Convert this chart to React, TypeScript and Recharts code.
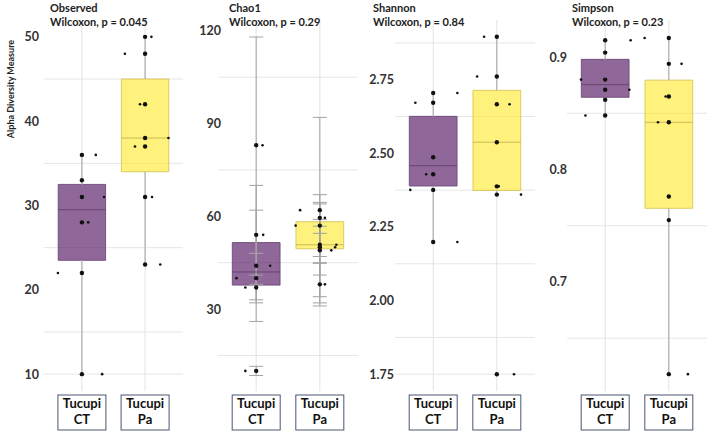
import React from 'react';
import {
  ComposedChart,
  Scatter,
  XAxis,
  YAxis,
  CartesianGrid,
  ReferenceArea,
  ReferenceLine,
  ErrorBar,
} from 'recharts';

const groups = ['Tucupi CT', 'Tucupi Pa'];

// Observed richness per sample
const observedCT = [36, 33, 31, 28, 22, 10];
const observedPa = [50, 48, 42, 38, 37, 31, 23];
const observedCTJitter = [0.22, 0, 0.35, 0.1, -0.38, 0.32];
const observedPaJitter = [0.1, -0.32, -0.08, 0.37, -0.16, 0.11, 0.24];

// Chao1 estimate and its standard error
const chao1CT = [83, 54, 44, 40, 37, 10];
const chao1CTse = [35, 16, 18, 8, 4, 1.5];
const chao1Pa = [62, 59.5, 57, 50.8, 50, 49, 38];
const chao1PaSe = [30, 5, 10, 6, 9, 15, 7];
const chao1CTJitter = [0.1, 0.11, 0.22, -0.31, -0.17, -0.17];
const chao1PaJitter = [-0.31, 0.08, -0.38, 0.26, 0.24, 0.18, 0.08];

// Shannon index
const shannonCT = [2.705, 2.672, 2.487, 2.429, 2.376, 2.199];
const shannonPa = [2.896, 2.761, 2.667, 2.538, 2.388, 2.36, 1.75];
const shannonCTJitter = [0.38, -0.28, 0, -0.11, -0.36, 0.38];
const shannonPaJitter = [-0.2, -0.31, 0.2, 0, 0.03, 0.38, 0.27];

// Simpson index
const simpsonCT = [0.915, 0.904, 0.88, 0.871, 0.862, 0.848];
const simpsonPa = [0.917, 0.894, 0.865, 0.842, 0.776, 0.755, 0.618];
const simpsonCTJitter = [0.4, 0, -0.38, 0.38, 0, -0.31];
const simpsonPaJitter = [-0.38, 0.2, -0.05, -0.17, 0, 0, 0.3];

const FONT = 'Lato, "Open Sans", sans-serif';
const FILLS = ['#440154', '#FDE725'];
const MEDIANS = ['#5a3566', '#b3a24a'];
const BORDERS = ['#6d4a7a', '#d9c55a'];
const HALF_BOX = 0.375;

// type 7 quantile, same as R's default
function quantile(values: number[], p: number) {
  const s = [...values].sort((a, b) => a - b);
  const pos = (s.length - 1) * p;
  const lo = Math.floor(pos);
  const hi = Math.ceil(pos);
  return s[lo] + (s[hi] - s[lo]) * (pos - lo);
}

function boxStats(values: number[]) {
  const q1 = quantile(values, 0.25);
  const med = quantile(values, 0.5);
  const q3 = quantile(values, 0.75);
  const iqr = q3 - q1;
  const inside = values.filter((v) => v >= q1 - 1.5 * iqr && v <= q3 + 1.5 * iqr);
  return { q1, med, q3, lo: Math.min(...inside), hi: Math.max(...inside) };
}

interface PanelProps {
  left: number;
  width: number;
  yWidth: number;
  labelRight: number;
  domain: [number, number];
  ticks: number[];
  minor: number[];
  digits: number;
  series: number[][];
  jitter: number[][];
  se?: number[][];
}

const bigDot = (p: any) => <circle cx={p.cx} cy={p.cy} r={2.2} fill="#111" />;
const smallDot = (p: any) => <circle cx={p.cx} cy={p.cy} r={1.3} fill="#111" />;

function GroupTick(props: any) {
  const { x, payload } = props;
  const [top, bottom] = groups[payload.value - 1].split(' ');
  return (
    <g>
      <rect x={x - 24} y={395} width={48} height={35} fill="#fff" stroke="#4a5670" strokeWidth={1} />
      <text x={x} y={408} textAnchor="middle" fontFamily={FONT} fontWeight={700} fontSize={13} fill="#111">
        {top}
      </text>
      <text x={x} y={424} textAnchor="middle" fontFamily={FONT} fontWeight={700} fontSize={13} fill="#111">
        {bottom}
      </text>
    </g>
  );
}

function Panel({ left, width, yWidth, labelRight, domain, ticks, minor, digits, series, jitter, se }: PanelProps) {
  const stats = series.map(boxStats);
  const YTick = (props: any) => (
    <text
      x={labelRight}
      y={props.y}
      dy={4.5}
      textAnchor="end"
      fontFamily={FONT}
      fontWeight={700}
      fontSize={12.5}
      fill="#333"
    >
      {Number(props.payload.value).toFixed(digits)}
    </text>
  );

  return (
    <div style={{ position: 'absolute', left, top: 0 }}>
      <ComposedChart width={width} height={433} margin={{ top: 20, right: 0, bottom: 0, left: 0 }}>
        <CartesianGrid horizontalValues={[...ticks, ...minor]} vertical={false} stroke="#e6e6e6" />
        <XAxis
          type="number"
          dataKey="x"
          domain={[0.4, 2.6]}
          ticks={[1, 2]}
          allowDataOverflow
          axisLine={false}
          tickLine={false}
          height={42}
          tick={<GroupTick />}
        />
        <YAxis
          type="number"
          dataKey="y"
          domain={domain}
          ticks={ticks}
          allowDataOverflow
          width={yWidth}
          axisLine={false}
          tickLine={false}
          tick={<YTick />}
        />
        {/* vertical grid at each group, left open where the box sits */}
        {stats.map((s, i) => (
          <ReferenceLine
            key={`vgl${i}`}
            segment={[
              { x: i + 1, y: domain[0] },
              { x: i + 1, y: s.q1 },
            ]}
            stroke="#e3e3e3"
          />
        ))}
        {stats.map((s, i) => (
          <ReferenceLine
            key={`vgh${i}`}
            segment={[
              { x: i + 1, y: s.q3 },
              { x: i + 1, y: domain[1] },
            ]}
            stroke="#e3e3e3"
          />
        ))}
        {stats.map((s, i) => (
          <ReferenceLine
            key={`wl${i}`}
            segment={[
              { x: i + 1, y: s.lo },
              { x: i + 1, y: s.q1 },
            ]}
            stroke="#a3a3a3"
          />
        ))}
        {stats.map((s, i) => (
          <ReferenceLine
            key={`wh${i}`}
            segment={[
              { x: i + 1, y: s.q3 },
              { x: i + 1, y: s.hi },
            ]}
            stroke="#a3a3a3"
          />
        ))}
        {se &&
          series.map((vals, i) => (
            <Scatter
              key={`eb${i}`}
              data={vals.map((v, j) => ({ x: i + 1, y: v, se: se[i][j] }))}
              shape={() => null}
              isAnimationActive={false}
            >
              <ErrorBar dataKey="se" direction="y" width={7} stroke="#a3a3a3" strokeWidth={1} />
            </Scatter>
          ))}
        {stats.map((s, i) => (
          <ReferenceArea
            key={`box${i}`}
            x1={i + 1 - HALF_BOX}
            x2={i + 1 + HALF_BOX}
            y1={s.q1}
            y2={s.q3}
            fill={FILLS[i]}
            fillOpacity={0.6}
            stroke={BORDERS[i]}
            strokeOpacity={0.9}
          />
        ))}
        {stats.map((s, i) => (
          <ReferenceLine
            key={`med${i}`}
            segment={[
              { x: i + 1 - HALF_BOX, y: s.med },
              { x: i + 1 + HALF_BOX, y: s.med },
            ]}
            stroke={MEDIANS[i]}
            strokeOpacity={0.7}
          />
        ))}
        {series.map((vals, i) => (
          <Scatter
            key={`pt${i}`}
            data={vals.map((v) => ({ x: i + 1, y: v }))}
            shape={bigDot}
            isAnimationActive={false}
          />
        ))}
        {series.map((vals, i) => (
          <Scatter
            key={`jt${i}`}
            data={vals.map((v, j) => ({ x: i + 1 + jitter[i][j], y: v }))}
            shape={smallDot}
            isAnimationActive={false}
          />
        ))}
      </ComposedChart>
    </div>
  );
}

const titleStyle: React.CSSProperties = {
  position: 'absolute',
  fontFamily: FONT,
  fontWeight: 700,
  fontSize: 11,
  lineHeight: '14px',
  color: '#222',
  whiteSpace: 'nowrap',
};

function Title({ left, name, p }: { left: number; name: string; p: string }) {
  return (
    <div style={{ ...titleStyle, left, top: 1 }}>
      <div>{name}</div>
      <div>Wilcoxon, p = {p}</div>
    </div>
  );
}

export default function App() {
  return (
    <div style={{ position: 'absolute', left: 0, top: 0, width: 709, height: 433, background: '#fff', overflow: 'hidden' }}>
      <Panel
        left={0}
        width={183}
        yWidth={44}
        labelRight={39}
        domain={[8, 52]}
        ticks={[10, 20, 30, 40, 50]}
        minor={[15, 25, 35, 45]}
        digits={0}
        series={[observedCT, observedPa]}
        jitter={[observedCTJitter, observedPaJitter]}
      />
      <Panel
        left={183}
        width={175}
        yWidth={35}
        labelRight={38}
        domain={[3.5, 123.5]}
        ticks={[30, 60, 90, 120]}
        minor={[15, 45, 75, 105]}
        digits={0}
        series={[chao1CT, chao1Pa]}
        jitter={[chao1CTJitter, chao1PaJitter]}
        se={[chao1CTse, chao1PaSe]}
      />
      <Panel
        left={358}
        width={177}
        yWidth={37}
        labelRight={36}
        domain={[1.693, 2.953]}
        ticks={[1.75, 2, 2.25, 2.5, 2.75]}
        minor={[1.875, 2.125, 2.375, 2.625, 2.875]}
        digits={2}
        series={[shannonCT, shannonPa]}
        jitter={[shannonCTJitter, shannonPaJitter]}
      />
      <Panel
        left={535}
        width={172}
        yWidth={32}
        labelRight={32}
        domain={[0.603, 0.933]}
        ticks={[0.7, 0.8, 0.9]}
        minor={[0.65, 0.75, 0.85]}
        digits={1}
        series={[simpsonCT, simpsonPa]}
        jitter={[simpsonCTJitter, simpsonPaJitter]}
      />
      <Title left={50} name="Observed" p="0.045" />
      <Title left={229} name="Chao1" p="0.29" />
      <Title left={373} name="Shannon" p="0.84" />
      <Title left={572} name="Simpson" p="0.23" />
      <div
        style={{
          position: 'absolute',
          left: 10,
          top: 89,
          transform: 'translate(-50%, -50%) rotate(-90deg)',
          fontFamily: FONT,
          fontWeight: 700,
          fontSize: 9,
          color: '#222',
          whiteSpace: 'nowrap',
        }}
      >
        Alpha Diversity Measure
      </div>
    </div>
  );
}
